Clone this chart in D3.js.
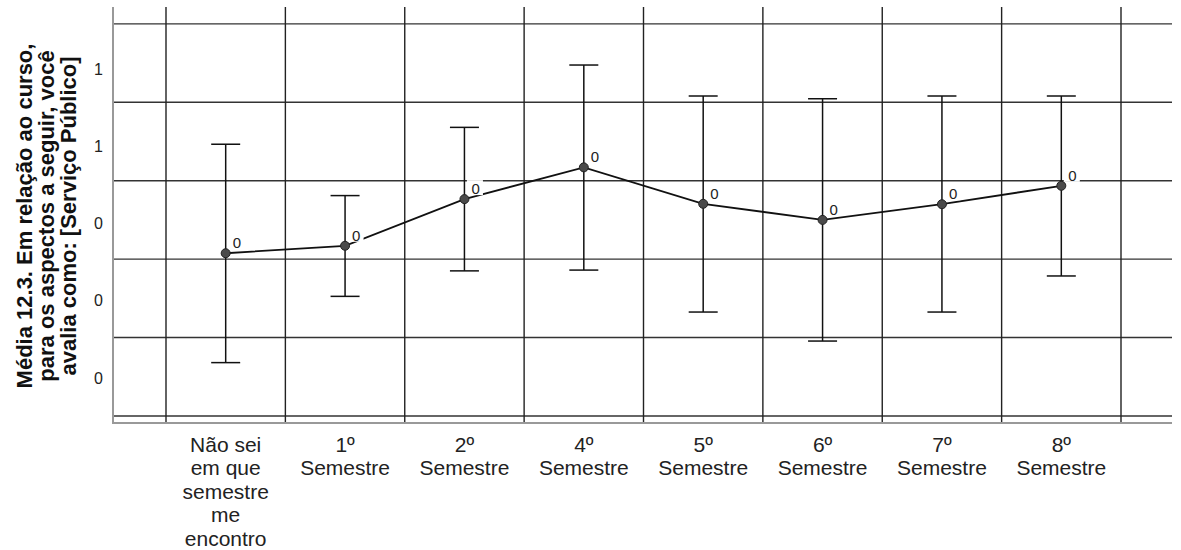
<!DOCTYPE html>
<html>
<head>
<meta charset="utf-8">
<script src="https://cdn.jsdelivr.net/npm/d3@7"></script>
<style>
  body { margin: 0; background: #fff; }
  svg { display: block; font-family: "Liberation Sans", Arial, sans-serif; }
</style>
</head>
<body>
<div id="chart"></div>
<script>
// Categories (x axis) and their wrapped label lines
var categories = ["Não sei em que semestre me encontro", "1º Semestre", "2º Semestre", "4º Semestre",
                  "5º Semestre", "6º Semestre", "7º Semestre", "8º Semestre"];
var categoryLines = [["Não sei", "em que", "semestre", "me", "encontro"], ["1º", "Semestre"], ["2º", "Semestre"],
                     ["4º", "Semestre"], ["5º", "Semestre"], ["6º", "Semestre"], ["7º", "Semestre"], ["8º", "Semestre"]];

// Means and error bar limits
var means = [0.415, 0.434, 0.553, 0.634, 0.541, 0.500, 0.540, 0.587];
var upper = [0.693, 0.562, 0.736, 0.895, 0.816, 0.809, 0.816, 0.816];
var lower = [0.136, 0.305, 0.370, 0.372, 0.265, 0.191, 0.265, 0.357];
var pointLabels = ["0", "0", "0", "0", "0", "0", "0", "0"];

// y axis gridlines and tick labels
var gridValues = [0, 0.2, 0.4, 0.6, 0.8, 1.0];
var tickValues = [0.885, 0.688, 0.491, 0.294, 0.097];
var tickLabels = ["1", "1", "0", "0", "0"];

var titleLines = ["Média 12.3. Em relação ao curso,", "para os aspectos a seguir, você", "avalia como: [Serviço Público]"];

function drawChart() {
    const width = 1181, height = 550;
    var plot = {left: 113, right: 1172, top: 7, bottom: 423};

    var svg = d3.select("#chart").append("svg")
        .attr("width", width)
        .attr("height", height);

    // Scales
    var xScale = d3.scaleBand()
        .domain(categories)
        .range([plot.left + 53, plot.right - 51])
        .padding(0);
    var yScale = d3.scaleLinear()
        .domain([-0.018, 1.043])
        .range([plot.bottom, plot.top]);

    var data = categories.map((c, i) => ({cat: c, mean: means[i], hi: upper[i], lo: lower[i], label: pointLabels[i], lines: categoryLines[i]}));
    const cx = d => xScale(d.cat) + xScale.bandwidth() / 2;

    // Horizontal gridlines
    svg.append("g").selectAll("line")
        .data(gridValues)
        .enter().append("line")
        .attr("x1", plot.left).attr("x2", plot.right)
        .attr("y1", d => yScale(d)).attr("y2", d => yScale(d))
        .attr("stroke", "#333").attr("stroke-width", 1.4);

    // Vertical gridlines at category boundaries
    var edges = categories.map(c => xScale(c)).concat([xScale(categories[categories.length - 1]) + xScale.bandwidth()]);
    svg.append("g").selectAll("line")
        .data(edges)
        .enter().append("line")
        .attr("x1", d => d).attr("x2", d => d)
        .attr("y1", plot.top).attr("y2", plot.bottom)
        .attr("stroke", "#222").attr("stroke-width", 1.4);

    // Axis lines (gray)
    svg.append("line")
        .attr("x1", plot.left).attr("x2", plot.left)
        .attr("y1", plot.top).attr("y2", plot.bottom + 1)
        .attr("stroke", "#999").attr("stroke-width", 2);
    svg.append("line")
        .attr("x1", plot.left).attr("x2", plot.right)
        .attr("y1", plot.bottom).attr("y2", plot.bottom)
        .attr("stroke", "#999").attr("stroke-width", 2);

    // y tick labels
    svg.append("g").selectAll("text")
        .data(tickValues)
        .enter().append("text")
        .attr("x", 103)
        .attr("y", d => yScale(d))
        .attr("dy", "0.35em")
        .attr("text-anchor", "end")
        .attr("font-size", 16)
        .attr("fill", "#222")
        .text((d, i) => tickLabels[i]);

    // x category labels
    var xl = svg.append("g").selectAll("text")
        .data(data)
        .enter().append("text")
        .attr("text-anchor", "middle")
        .attr("font-size", 21)
        .attr("fill", "#222");
    xl.selectAll("tspan")
        .data(d => d.lines.map(t => ({t: t, x: cx(d)})))
        .enter().append("tspan")
        .attr("x", d => d.x)
        .attr("y", (d, i) => 452 + i * 23.4)
        .text(d => d.t);

    // Error bars
    var bars = svg.append("g").attr("stroke", "#111").attr("stroke-width", 1.5);
    bars.selectAll(".stem").data(data).enter().append("line")
        .attr("x1", cx).attr("x2", cx)
        .attr("y1", d => yScale(d.hi)).attr("y2", d => yScale(d.lo));
    bars.selectAll(".capHi").data(data).enter().append("line")
        .attr("x1", d => cx(d) - 14.5).attr("x2", d => cx(d) + 14.5)
        .attr("y1", d => yScale(d.hi)).attr("y2", d => yScale(d.hi));
    bars.selectAll(".capLo").data(data).enter().append("line")
        .attr("x1", d => cx(d) - 14.5).attr("x2", d => cx(d) + 14.5)
        .attr("y1", d => yScale(d.lo)).attr("y2", d => yScale(d.lo));

    // Mean line
    var line = d3.line().x(cx).y(d => yScale(d.mean));
    svg.append("path")
        .datum(data)
        .attr("d", line)
        .attr("fill", "none")
        .attr("stroke", "#111")
        .attr("stroke-width", 1.8);

    // Points
    svg.selectAll(".dot")
        .data(data)
        .enter().append("circle")
        .attr("class", "dot")
        .attr("cx", cx)
        .attr("cy", d => yScale(d.mean))
        .attr("r", 4.5)
        .attr("fill", "#4a4a4a")
        .attr("stroke", "#222")
        .attr("stroke-width", 1);

    // Point labels with white boxes
    var lab = svg.append("g").selectAll("g")
        .data(data)
        .enter().append("g")
        .attr("transform", d => "translate(" + cx(d) + "," + yScale(d.mean) + ")");
    lab.append("rect")
        .attr("x", 2.5).attr("y", -19)
        .attr("width", 16).attr("height", 15)
        .attr("fill", "#fff");
    lab.append("text")
        .attr("x", 7).attr("y", -5)
        .attr("font-size", 15)
        .attr("fill", "#222")
        .text(d => d.label);

    // y axis title (rotated, three lines)
    var title = svg.append("text")
        .attr("transform", "translate(0,216) rotate(-90)")
        .attr("text-anchor", "middle")
        .attr("font-size", 22)
        .attr("font-weight", "bold")
        .attr("fill", "#111");
    title.selectAll("tspan")
        .data(titleLines)
        .enter().append("tspan")
        .attr("x", 0)
        .attr("y", (d, i) => 32 + i * 22)
        .text(d => d);
}

drawChart();
</script>
</body>
</html>
